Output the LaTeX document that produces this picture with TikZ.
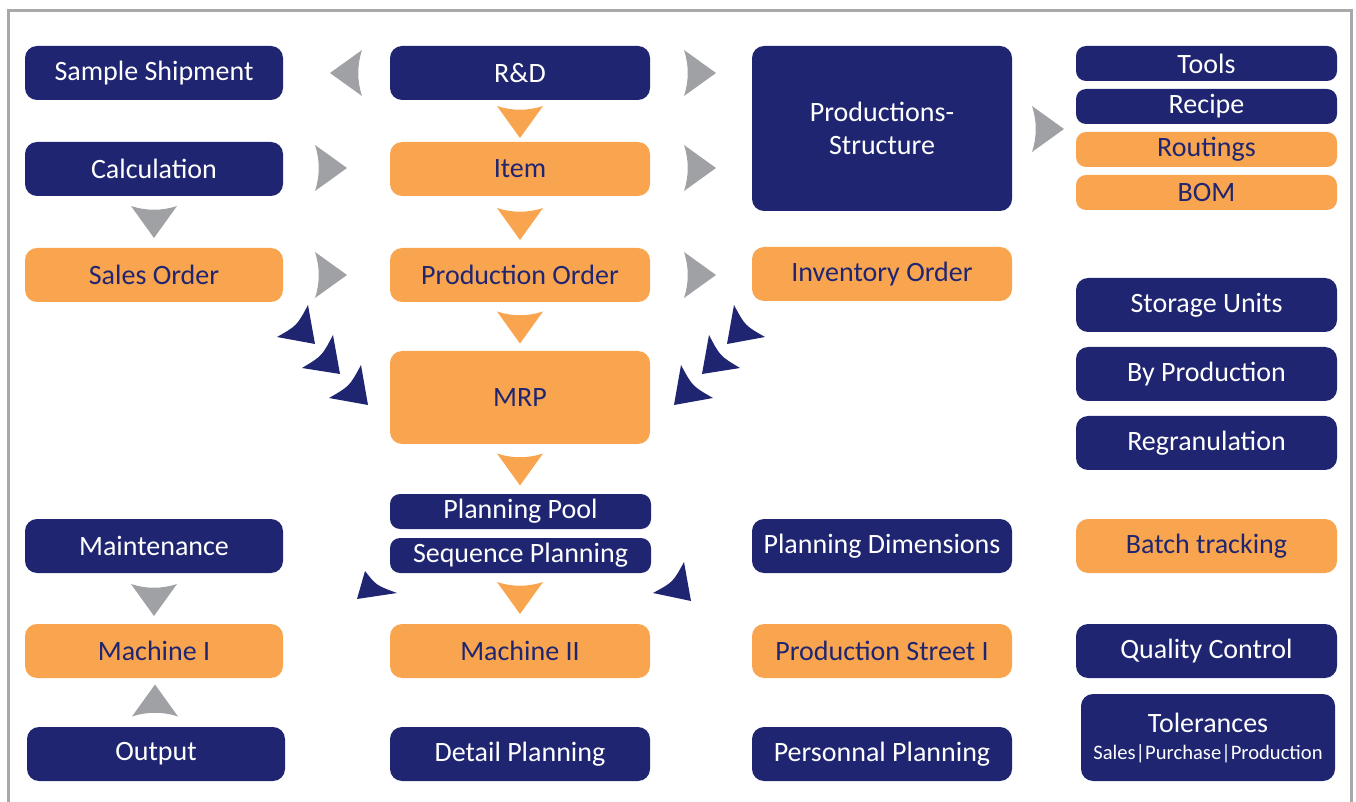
\documentclass[tikz,border=0pt]{standalone}
\usepackage{fontspec}
\setmainfont{Carlito}
\usetikzlibrary{calc}
\definecolor{navy}{HTML}{1F2571}
\definecolor{orangeb}{HTML}{F9A54F}
\definecolor{grayar}{HTML}{A0A1A5}
\definecolor{bordergray}{HTML}{A8A8A8}
\tikzset{
  box/.style={rectangle, rounded corners=6pt, inner sep=0pt, align=center,
    font=\fontsize{14}{16.5}\selectfont},
  nb/.style={box, fill=navy, text=white},
  ob/.style={box, fill=orangeb, text=navy},
  w1/.style={minimum width=129pt},
  w2/.style={minimum width=130pt},
  w4/.style={minimum width=130.5pt},
  h1/.style={minimum height=27pt},
  h2/.style={minimum height=17.5pt, rounded corners=5pt},
  pics/ahead/.style={code={\fill[#1] (16,0) -- (-16,-23) .. controls (-11,-8) and (-11,8) .. (-16,23) -- cycle;}}
}
\begin{document}
\begin{tikzpicture}[x=0.5pt,y=-0.5pt]
\useasboundingbox (0,0) rectangle (1356,802);
\draw[bordergray, line width=1.5pt] (8.7,10.3) rectangle (1351.5,815);

% column 1
\node[nb,w1,h1] (ss) at (154,73) {Sample Shipment};
\node[nb,w1,h1] (calc) at (154,169) {Calculation};
\node[ob,w1,h1] (so) at (154,275) {Sales Order};
\node[nb,w1,h1] (maint) at (154,546) {Maintenance};
\node[ob,w1,h1] (m1) at (154,651) {Machine I};
\node[nb,w1,h1] (out) at (156,754) {Output};
% column 2
\node[nb,w2,h1] (rd) at (520,73) {R\&D};
\node[ob,w2,h1] (item) at (520,169) {Item};
\node[ob,w2,h1] (po) at (520,275) {Production Order};
\node[ob,w2,minimum height=46.5pt] (mrp) at (520,397.5) {MRP};
\node[nb,w4,h2] (pp) at (520.5,511.5) {Planning Pool};
\node[nb,w4,h2] (sp) at (520.5,555.5) {Sequence Planning};
\node[ob,w2,h1] (m2) at (520,651) {Machine II};
\node[nb,w2,h1] (dp) at (520,754) {Detail Planning};
% column 3
\node[nb,w2,minimum height=82.5pt] (ps) at (882,128.5) {Productions-\\Structure};
\node[ob,w2,h1] (io) at (882,274) {Inventory Order};
\node[nb,w2,h1] (pd) at (882,546) {Planning Dimensions};
\node[ob,w2,h1] (psi) at (882,651) {Production Street I};
\node[nb,w2,h1] (pers) at (882,754) {Personnal Planning};
% column 4
\node[nb,w4,h2] (tools) at (1206.5,63.5) {Tools};
\node[nb,w4,h2] (recipe) at (1206.5,106.5) {Recipe};
\node[ob,w4,h2] (routings) at (1206.5,149.5) {Routings};
\node[ob,w4,h2] (bom) at (1206.5,192.5) {BOM};
\node[nb,w4,h1] (su) at (1206.5,305) {Storage Units};
\node[nb,w4,h1] (bp) at (1206.5,374) {By Production};
\node[nb,w4,h1] (reg) at (1206.5,443) {Regranulation};
\node[ob,w4,h1] (bt) at (1206.5,546) {Batch tracking};
\node[nb,w4,h1] (qc) at (1206.5,651) {Quality Control};
\node[nb,minimum width=127pt,minimum height=43.5pt] (tol) at (1208,737.5)
  {Tolerances\\[-3pt]{\fontsize{10.3}{12}\selectfont Sales|Purchase|Production}};

% gray arrowheads
\pic[rotate=180] at (346,73) {ahead=grayar};
\pic at (700,73) {ahead=grayar};
\pic at (331,168) {ahead=grayar};
\pic at (700,168) {ahead=grayar};
\pic at (331,275) {ahead=grayar};
\pic at (700,275) {ahead=grayar};
\pic at (1048,129) {ahead=grayar};
\pic[rotate=-90] at (154,222) {ahead=grayar};
\pic[rotate=-90] at (154,600) {ahead=grayar};
\pic[rotate=90] at (155,700.5) {ahead=grayar};

% orange arrowheads
\pic[rotate=-90] at (520,122) {ahead=orangeb};
\pic[rotate=-90] at (520,224) {ahead=orangeb};
\pic[rotate=-90] at (520,327.5) {ahead=orangeb};
\pic[rotate=-90] at (520,469.5) {ahead=orangeb};
\pic[rotate=-90] at (520,598) {ahead=orangeb};

% navy curved arrowheads
\fill[navy] (315,344) -- (277,337) .. controls (297,325.6) .. (308,305) -- cycle;
\fill[navy] (340,374) -- (302,368) .. controls (322,356) .. (333,335) -- cycle;
\fill[navy] (368,405) -- (329,398) .. controls (349.6,386.2) .. (361,365) -- cycle;
\fill[navy] (727,344) -- (765,337) .. controls (745,325.6) .. (734,305) -- cycle;
\fill[navy] (702,374) -- (740,368) .. controls (720,356) .. (709,335) -- cycle;
\fill[navy] (674,405) -- (713,398) .. controls (692.4,386.2) .. (681,365) -- cycle;
\fill[navy] (357,599) -- (397,593) .. controls (376.2,585.4) .. (365,571) -- cycle;
\fill[navy] (691,601) -- (653,593) .. controls (673,582.2) .. (684,562) -- cycle;
\end{tikzpicture}
\end{document}
